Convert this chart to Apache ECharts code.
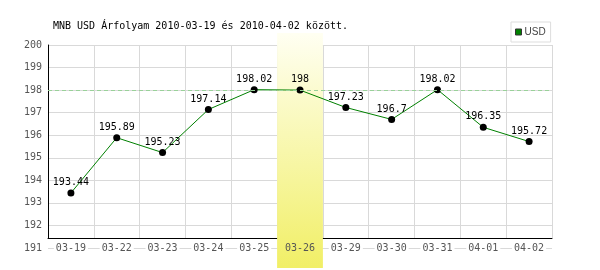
<!DOCTYPE html>
<html><head><meta charset="utf-8">
<script src="https://cdn.jsdelivr.net/npm/echarts@6/dist/echarts.min.js"></script>
<style>html,body{margin:0;padding:0;background:#fff}#c{width:600px;height:270px}</style>
</head><body><div id="c"></div>
<script>
const categories = ['03-19','03-22','03-23','03-24','03-25','03-26','03-29','03-30','03-31','04-01','04-02'];
const usdValues = [193.44,195.89,195.23,197.14,198.02,198,197.23,196.7,198.02,196.35,195.72];
const highlightCategory = '03-26';
const referenceLevel = 198;
const yMin = 191, yMax = 200, yStep = 1;
const titleText = 'MNB USD Árfolyam 2010-03-19 és 2010-04-02 között.';
const seriesName = 'USD';

const mono = 'DejaVu Sans Mono';
const bandData = categories.map(c => c === highlightCategory ? 1 : null);

const chart = echarts.init(document.getElementById('c'), null, {renderer: 'canvas'});
chart.setOption({
  animation: false,
  backgroundColor: '#fff',
  title: {
    text: titleText, left: 48, top: 21, padding: [0, 5],
    textStyle: {fontFamily: mono, fontSize: 10, fontWeight: 'normal', color: '#000'}
  },
  legend: {
    left: 511, top: 22, orient: 'horizontal',
    padding: [5, 5, 5, 4],
    borderColor: '#ddd', borderWidth: 1,
    icon: 'rect', itemWidth: 6, itemHeight: 6, itemGap: 2,
    data: [{name: seriesName, itemStyle: {color: '#008000', borderColor: '#333', borderWidth: 1}}],
    textStyle: {fontFamily: 'Liberation Sans', fontSize: 10, color: '#444', padding: [0, 0, 0, -2]}
  },
  grid: [
    {left: 48, right: 48, top: 45, bottom: 22},
    {left: 48, right: 48, top: 45, bottom: 32},
    {left: 48, right: 48, top: 33, bottom: 2}
  ],
  xAxis: [
    {
      gridIndex: 0, type: 'category', data: categories, boundaryGap: true, z: 5,
      axisLine: {show: false}, axisTick: {show: false}, splitLine: {show: false},
      axisLabel: {
        margin: 0, verticalAlign: 'middle', interval: 0,
        formatter: v => v === highlightCategory ? '{h|' + v + '}' : '{n|' + v + '}',
        rich: {
          n: {fontFamily: mono, fontSize: 10, color: '#555', backgroundColor: '#fff', padding: [0, 2]},
          h: {fontFamily: mono, fontSize: 10, color: '#555', padding: [0, 2]}
        }
      }
    },
    {
      gridIndex: 1, type: 'category', data: categories, boundaryGap: true, z: 1,
      axisLine: {show: true, lineStyle: {color: '#000', width: 1}},
      axisTick: {show: false}, axisLabel: {show: false},
      splitLine: {show: true, interval: 0, lineStyle: {color: '#d9d9d9', width: 1}}
    },
    {
      gridIndex: 2, type: 'category', data: categories, boundaryGap: true, show: false
    }
  ],
  yAxis: [
    {
      gridIndex: 0, type: 'value', min: yMin, max: yMax, interval: yStep, z: 0,
      axisLine: {show: false}, axisTick: {show: false},
      axisLabel: {margin: 6, fontFamily: mono, fontSize: 10, color: '#555'},
      splitLine: {show: true, lineStyle: {color: '#d9d9d9', width: 1}}
    },
    {
      gridIndex: 1, type: 'value', min: yMin, max: yMax, z: 1,
      axisLine: {show: true, lineStyle: {color: '#000', width: 1}},
      axisTick: {show: false}, axisLabel: {show: false}, splitLine: {show: false}
    },
    {
      gridIndex: 2, type: 'value', min: 0, max: 1, show: false
    }
  ],
  series: [
    {
      type: 'bar', name: 'band', xAxisIndex: 2, yAxisIndex: 2, data: bandData,
      barWidth: '100%', silent: true, z: 2, legendHoverLink: false,
      itemStyle: {
        color: new echarts.graphic.LinearGradient(0, 0, 0, 1, [
          {offset: 0, color: '#fffff2'},
          {offset: 1, color: '#f1ef66'}
        ])
      }
    },
    {
      type: 'line', name: seriesName, xAxisIndex: 0, yAxisIndex: 0, data: usdValues, z: 4,
      symbol: 'circle', symbolSize: 7,
      itemStyle: {color: '#000'},
      lineStyle: {color: '#008000', width: 1},
      label: {show: true, position: 'top', distance: 2, fontFamily: mono, fontSize: 10, color: '#000'},
      markLine: {
        silent: true, symbol: 'none', label: {show: false},
        lineStyle: {color: '#99d199', type: [4, 3], width: 1},
        data: [{yAxis: referenceLevel}]
      }
    }
  ]
});
</script></body></html>
